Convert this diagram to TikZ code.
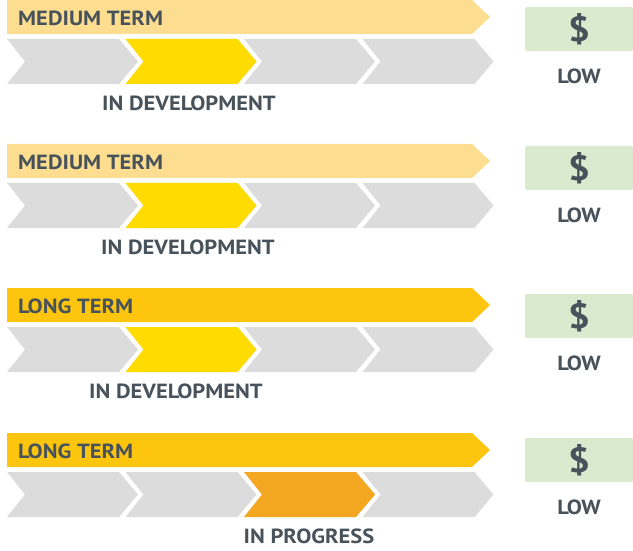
\documentclass[tikz,border=0pt]{standalone}
\usepackage{fontspec}
\setmainfont{PT Sans}[FakeStretch=1.1]
\usetikzlibrary{positioning}
\definecolor{slate}{RGB}{72,82,91}
\definecolor{sand}{RGB}{253,222,145}
\definecolor{gold}{RGB}{253,197,13}
\definecolor{lemon}{RGB}{255,219,0}
\definecolor{tangerine}{RGB}{244,167,33}
\definecolor{fog}{RGB}{220,220,220}
\definecolor{mint}{RGB}{218,234,206}
\tikzset{
  term/.style={anchor=west,text=slate,inner sep=0pt,
    font=\fontsize{20.5}{24}\selectfont\bfseries},
  stage/.style={text=slate,inner sep=0pt,
    font=\fontsize{20.5}{24}\selectfont\bfseries},
  costbox/.style={fill=mint,rounded corners=1.5pt,minimum width=108pt,
    minimum height=44pt,inner sep=0pt,text=slate,
    font=\fontsize{35}{38}\selectfont\bfseries},
  % shapes
  pics/chev/.style={code={
    \fill[#1] (0,0) -- (112,0) -- (131,22.5) -- (112,45) -- (0,45) -- (18,22.5) -- cycle;
  }},
  pics/chev/.default=fog,
  pics/bar/.style={code={
    \fill[#1] (0,0) -- (465,0) -- (483,17) -- (465,34) -- (0,34) -- cycle;
  }},
  pics/bar/.default=sand,
}

\begin{document}
\begin{tikzpicture}[x=1pt,y=-1pt]
  \useasboundingbox (0,0) rectangle (633,551);
  \foreach \t/\c/\s/\a/\ac/\lx/\yb/\yc [count=\i] in {
    MEDIUM TERM/sand/IN DEVELOPMENT/2/lemon/189/0/7,
    MEDIUM TERM/sand/IN DEVELOPMENT/2/lemon/188/144/146,
    LONG TERM/gold/IN DEVELOPMENT/2/lemon/176/288/294,
    LONG TERM/gold/IN PROGRESS/3/tangerine/309/433/438}
  {
    \pic at (7,\yb) {bar=\c};
    \foreach \k in {0,...,3}
      \pic at ({7+118.5*\k},{\yb+39}) {chev};
    \pic at ({7+118.5*(\a-1)},{\yb+39}) {chev=\ac};
    \node[term] (t\i) at (18,{\yb+18}) {\t};
    \node[stage] (s\i) at (\lx,{\yb+103}) {\s};
    \node[costbox] (c\i) at (579,{\yc+22}) {\$};
    \node[stage,below=17pt of c\i] (l\i) {LOW};
  }
\end{tikzpicture}
\end{document}
